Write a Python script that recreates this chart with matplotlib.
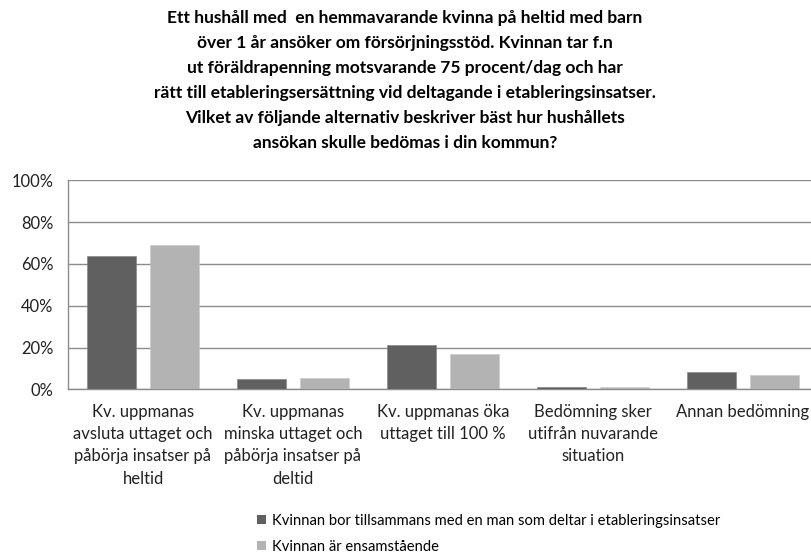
import matplotlib
matplotlib.use("Agg")
import matplotlib.pyplot as plt
import numpy as np
from matplotlib.patches import Patch

plt.rcParams['font.family'] = ['Lato', 'DejaVu Sans']

title = ("Ett hushåll med  en hemmavarande kvinna på heltid med barn\n"
         "över 1 år ansöker om försörjningsstöd. Kvinnan tar f.n\n"
         "ut föräldrapenning motsvarande 75 procent/dag och har\n"
         "rätt till etableringsersättning vid deltagande i etableringsinsatser.\n"
         "Vilket av följande alternativ beskriver bäst hur hushållets\n"
         "ansökan skulle bedömas i din kommun?")

categories = [
    "Kv. uppmanas\navsluta uttaget och\npåbörja insatser på\nheltid",
    "Kv. uppmanas\nminska uttaget och\npåbörja insatser på\ndeltid",
    "Kv. uppmanas öka\nuttaget till 100 %",
    "Bedömning sker\nutifrån nuvarande\nsituation",
    "Annan bedömning",
]
series_names = [
    "Kvinnan bor tillsammans med en man som deltar i etableringsinsatser",
    "Kvinnan är ensamstående",
]
together = [64, 5, 21, 1.1, 8.3]
single = [69, 5.5, 17, 0.9, 7]
yticks = [0, 20, 40, 60, 80, 100]
ytick_labels = ["0%", "20%", "40%", "60%", "80%", "100%"]

colors = ["#606060", "#b3b3b3"]

fig = plt.figure(figsize=(8.11, 5.57), dpi=100)
ax = fig.add_axes([68/811, 167.7/557, 750/811, 209/557])

x = np.arange(len(categories))
w = 0.333
ax.bar(x - 0.21, together, width=w, color=colors[0], edgecolor="#808080", linewidth=0.4, zorder=3)
ax.bar(x + 0.21, single, width=w, color=colors[1], edgecolor="#c8c8c8", linewidth=0.4, zorder=3)

ax.set_xlim(-0.5, len(categories) - 0.5)
ax.set_ylim(0, 100)
ax.set_yticks(yticks)
ax.set_yticklabels(ytick_labels, fontsize=11.9, color="#222222")
ax.yaxis.grid(True, color="#8c8c8c", linewidth=1.0, zorder=0)
ax.set_xticks(x)
ax.set_xticklabels(categories, fontsize=12, color="#222222", linespacing=1.48, va="top")
ax.tick_params(axis="both", length=0)
ax.tick_params(axis="y", pad=10.5)
ax.tick_params(axis="x", pad=10.5)
for s in ["top", "right"]:
    ax.spines[s].set_visible(False)
for s in ["left", "bottom"]:
    ax.spines[s].set_color("#8c8c8c")
    ax.spines[s].set_linewidth(1.0)

fig.text(405/811, 1 - 10/557, title, ha="center", va="top", fontsize=12.5, fontweight="bold",
         linespacing=1.69, color="#000000")

handles = [Patch(facecolor=c, edgecolor="none") for c in colors]
fig.legend(handles, series_names, loc="upper left", bbox_to_anchor=(257/811, 1 - 514/557),
           frameon=False, fontsize=10.6, handlelength=0.6, handleheight=0.6, handletextpad=0.45,
           labelspacing=0.8, borderaxespad=0, borderpad=0)

fig.savefig("out.png", dpi=100)
